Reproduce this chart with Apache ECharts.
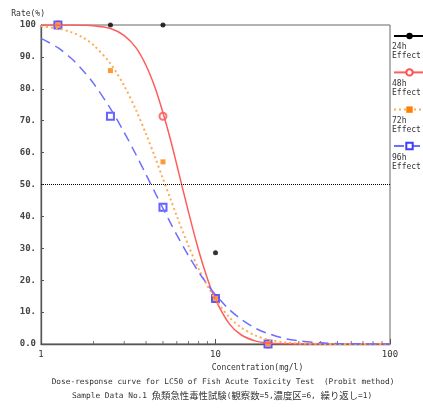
<!DOCTYPE html>
<html>
<head>
<meta charset="utf-8">
<script src="https://cdn.jsdelivr.net/npm/echarts@6/dist/echarts.min.js"></script>
<style>
  html, body { margin: 0; padding: 0; background: #fff; }
  #chart { width: 423px; height: 412px; }
</style>
</head>
<body>
<div id="chart"></div>
<script>
// observed rates (%) at each test concentration (mg/l)
const conc = [1.25, 2.5, 5, 10, 20];
const obs24h = [100, 100, 100, 28.6, 0];
const obs48h = [100, null, 71.4, 14.3, 0];
const obs72h = [100, 85.7, 57.1, 14.3, 0];
const obs96h = [100, 71.4, 42.9, 14.3, 0];

// probit curves
const curveConc = [1, 1.25, 1.5, 1.75, 2, 2.5, 3, 3.5, 4, 4.5, 5, 5.5, 6, 7, 8, 9, 10, 12, 14, 17, 20, 25, 30, 40, 50, 70, 100];
const fit48h = [100, 100, 100, 99.9, 99.8, 98.9, 96.7, 92.9, 87.3, 80.4, 72.5, 64.4, 56.2, 41.4, 29.4, 20.4, 13.9, 6.3, 2.9, 0.9, 0.3, 0.05, 0, 0, 0, 0, 0];
const fit72h = [99.6, 98.9, 97.7, 96.0, 93.7, 87.9, 80.9, 73.4, 65.8, 58.6, 51.8, 45.7, 40.1, 30.8, 23.6, 18.2, 14.0, 8.4, 5.2, 2.6, 1.4, 0.5, 0.2, 0.04, 0, 0, 0];
const fit96h = [95.8, 92.9, 89.4, 85.6, 81.7, 73.8, 66.3, 59.4, 53.1, 47.5, 42.5, 38.1, 34.2, 27.7, 22.6, 18.6, 15.4, 10.8, 7.8, 4.9, 3.3, 1.7, 1.0, 0.4, 0.16, 0.04, 0];

const minorTicks = [2, 3, 4, 5, 6, 7, 8, 9, 20, 30, 40, 50, 60, 70, 80, 90];
const names = ['24h\nEffect', '48h\nEffect', '72h\nEffect', '96h\nEffect'];

const MONO = "'DejaVu Sans Mono', 'Noto Sans CJK JP', monospace";
const pair = (xs, ys) => xs.map((x, i) => [x, ys[i]]).filter(p => p[1] != null);

const chart = echarts.init(document.getElementById('chart'));

// legend labels sit under their icons, so they are drawn as plain text
const legendLabels = names.map((t, i) => ({
  type: 'text', left: 392, top: 42 + i * 37,
  style: { text: t, font: '8px ' + MONO, fill: '#333', lineHeight: 9.5 }
}));

chart.setOption({
  animation: false,
  backgroundColor: '#fff',
  grid: { left: 41, right: 33, top: 25, bottom: 68, show: true, borderColor: '#666', borderWidth: 1 },
  title: [
    { text: 'Dose-response curve for LC50 of Fish Acute Toxicity Test  (Probit method)',
      left: 218, top: 373, textAlign: 'center',
      textStyle: { fontFamily: MONO, fontSize: 7.8, fontWeight: 'normal', color: '#333' } },
    { text: '{a|Sample Data No.1 }{j|魚類急性毒性試験}{a|(}{j|観察数}{a|=5,}{j|濃度区}{a|=6, }{j|繰り返し}{a|=1)}',
      left: 217, top: 386, textAlign: 'center',
      textStyle: {
        fontWeight: 'normal',
        rich: {
          a: { fontFamily: MONO, fontSize: 7.8, fontWeight: 'normal', color: '#333' },
          j: { fontFamily: "'Noto Sans CJK JP'", fontSize: 9.4, fontWeight: 'normal', color: '#333' }
        }
      } }
  ],
  legend: {
    orient: 'vertical', left: 388, top: 27,
    itemWidth: 31, itemHeight: 8, itemGap: 29,
    data: names,
    formatter: () => '',
    textStyle: { fontSize: 1 }
  },
  graphic: legendLabels,
  xAxis: {
    type: 'log', logBase: 10, min: 1, max: 100,
    name: 'Concentration(mg/l)', nameLocation: 'middle', nameGap: 20,
    nameTextStyle: { fontFamily: MONO, fontSize: 8, color: '#333', padding: [0, 0, 0, 84] },
    axisLine: { lineStyle: { color: '#555', width: 1.3 } },
    axisTick: { inside: true, length: 5, lineStyle: { color: '#555' } },
    axisLabel: { fontFamily: MONO, fontSize: 9, color: '#333', margin: 6 },
    splitLine: { show: false },
    minorTick: { show: false }
  },
  yAxis: {
    type: 'value', min: 0, max: 100, interval: 10,
    name: 'Rate(%)', nameLocation: 'end', nameGap: 7,
    nameTextStyle: { fontFamily: MONO, fontSize: 8, color: '#333', align: 'right', padding: [0, -4, 0, 0] },
    axisLine: { show: true, lineStyle: { color: '#555', width: 1.3 } },
    axisTick: { show: true, inside: true, length: 3, lineStyle: { color: '#555' } },
    axisLabel: {
      fontFamily: MONO, fontSize: 9, fontWeight: 'bold', color: '#444', margin: 5,
      formatter: v => (v === 100 ? '100' : v === 0 ? '0.0' : v + '.')
    },
    splitLine: { show: false }
  },
  series: [
    { name: names[0], type: 'line', data: [], symbol: 'circle', symbolSize: 5,
      itemStyle: { color: '#000' }, lineStyle: { color: '#000', width: 1.3 } },
    { name: names[1], type: 'line', data: pair(curveConc, fit48h), showSymbol: false, smooth: 0.3,
      symbol: 'emptyCircle', symbolSize: 7,
      itemStyle: { color: '#ff4f4f' }, lineStyle: { color: '#ff5c5c', width: 1.5 },
      markLine: { silent: true, symbol: ['none', 'none'], label: { show: false },
        lineStyle: { color: '#000', type: 'dotted', width: 1 }, data: [{ yAxis: 50 }] } },
    { name: names[2], type: 'line', data: pair(curveConc, fit72h), showSymbol: false, smooth: 0.3,
      symbol: 'rect', symbolSize: 5,
      itemStyle: { color: '#ff7f00' }, lineStyle: { color: '#ffaa55', width: 2, type: [2, 3] } },
    { name: names[3], type: 'line', data: pair(curveConc, fit96h), showSymbol: false, smooth: 0.3,
      symbol: 'emptyRect', symbolSize: 7,
      itemStyle: { color: '#3c3cff' }, lineStyle: { color: '#6e6eff', width: 1.5, type: [10, 6] } },
    { type: 'scatter', data: minorTicks.map(x => [x, 0]), symbol: 'rect', symbolSize: [1, 3],
      symbolOffset: [0, -1.5], itemStyle: { color: '#555' }, silent: true, z: 1 },
    { name: names[0], type: 'scatter', data: pair(conc, obs24h), symbol: 'circle', symbolSize: 5,
      itemStyle: { color: '#000' } },
    { name: names[1], type: 'scatter', data: pair(conc, obs48h), symbol: 'emptyCircle', symbolSize: 7,
      itemStyle: { color: '#ff4f4f', borderWidth: 1.2 } },
    { name: names[3], type: 'scatter', data: pair(conc, obs96h), symbol: 'emptyRect', symbolSize: 7,
      itemStyle: { color: '#3c3cff', borderWidth: 1.2 } },
    { name: names[2], type: 'scatter', data: pair(conc, obs72h), symbol: 'rect', symbolSize: 5,
      itemStyle: { color: '#ff7f00' } }
  ]
});
</script>
</body>
</html>
